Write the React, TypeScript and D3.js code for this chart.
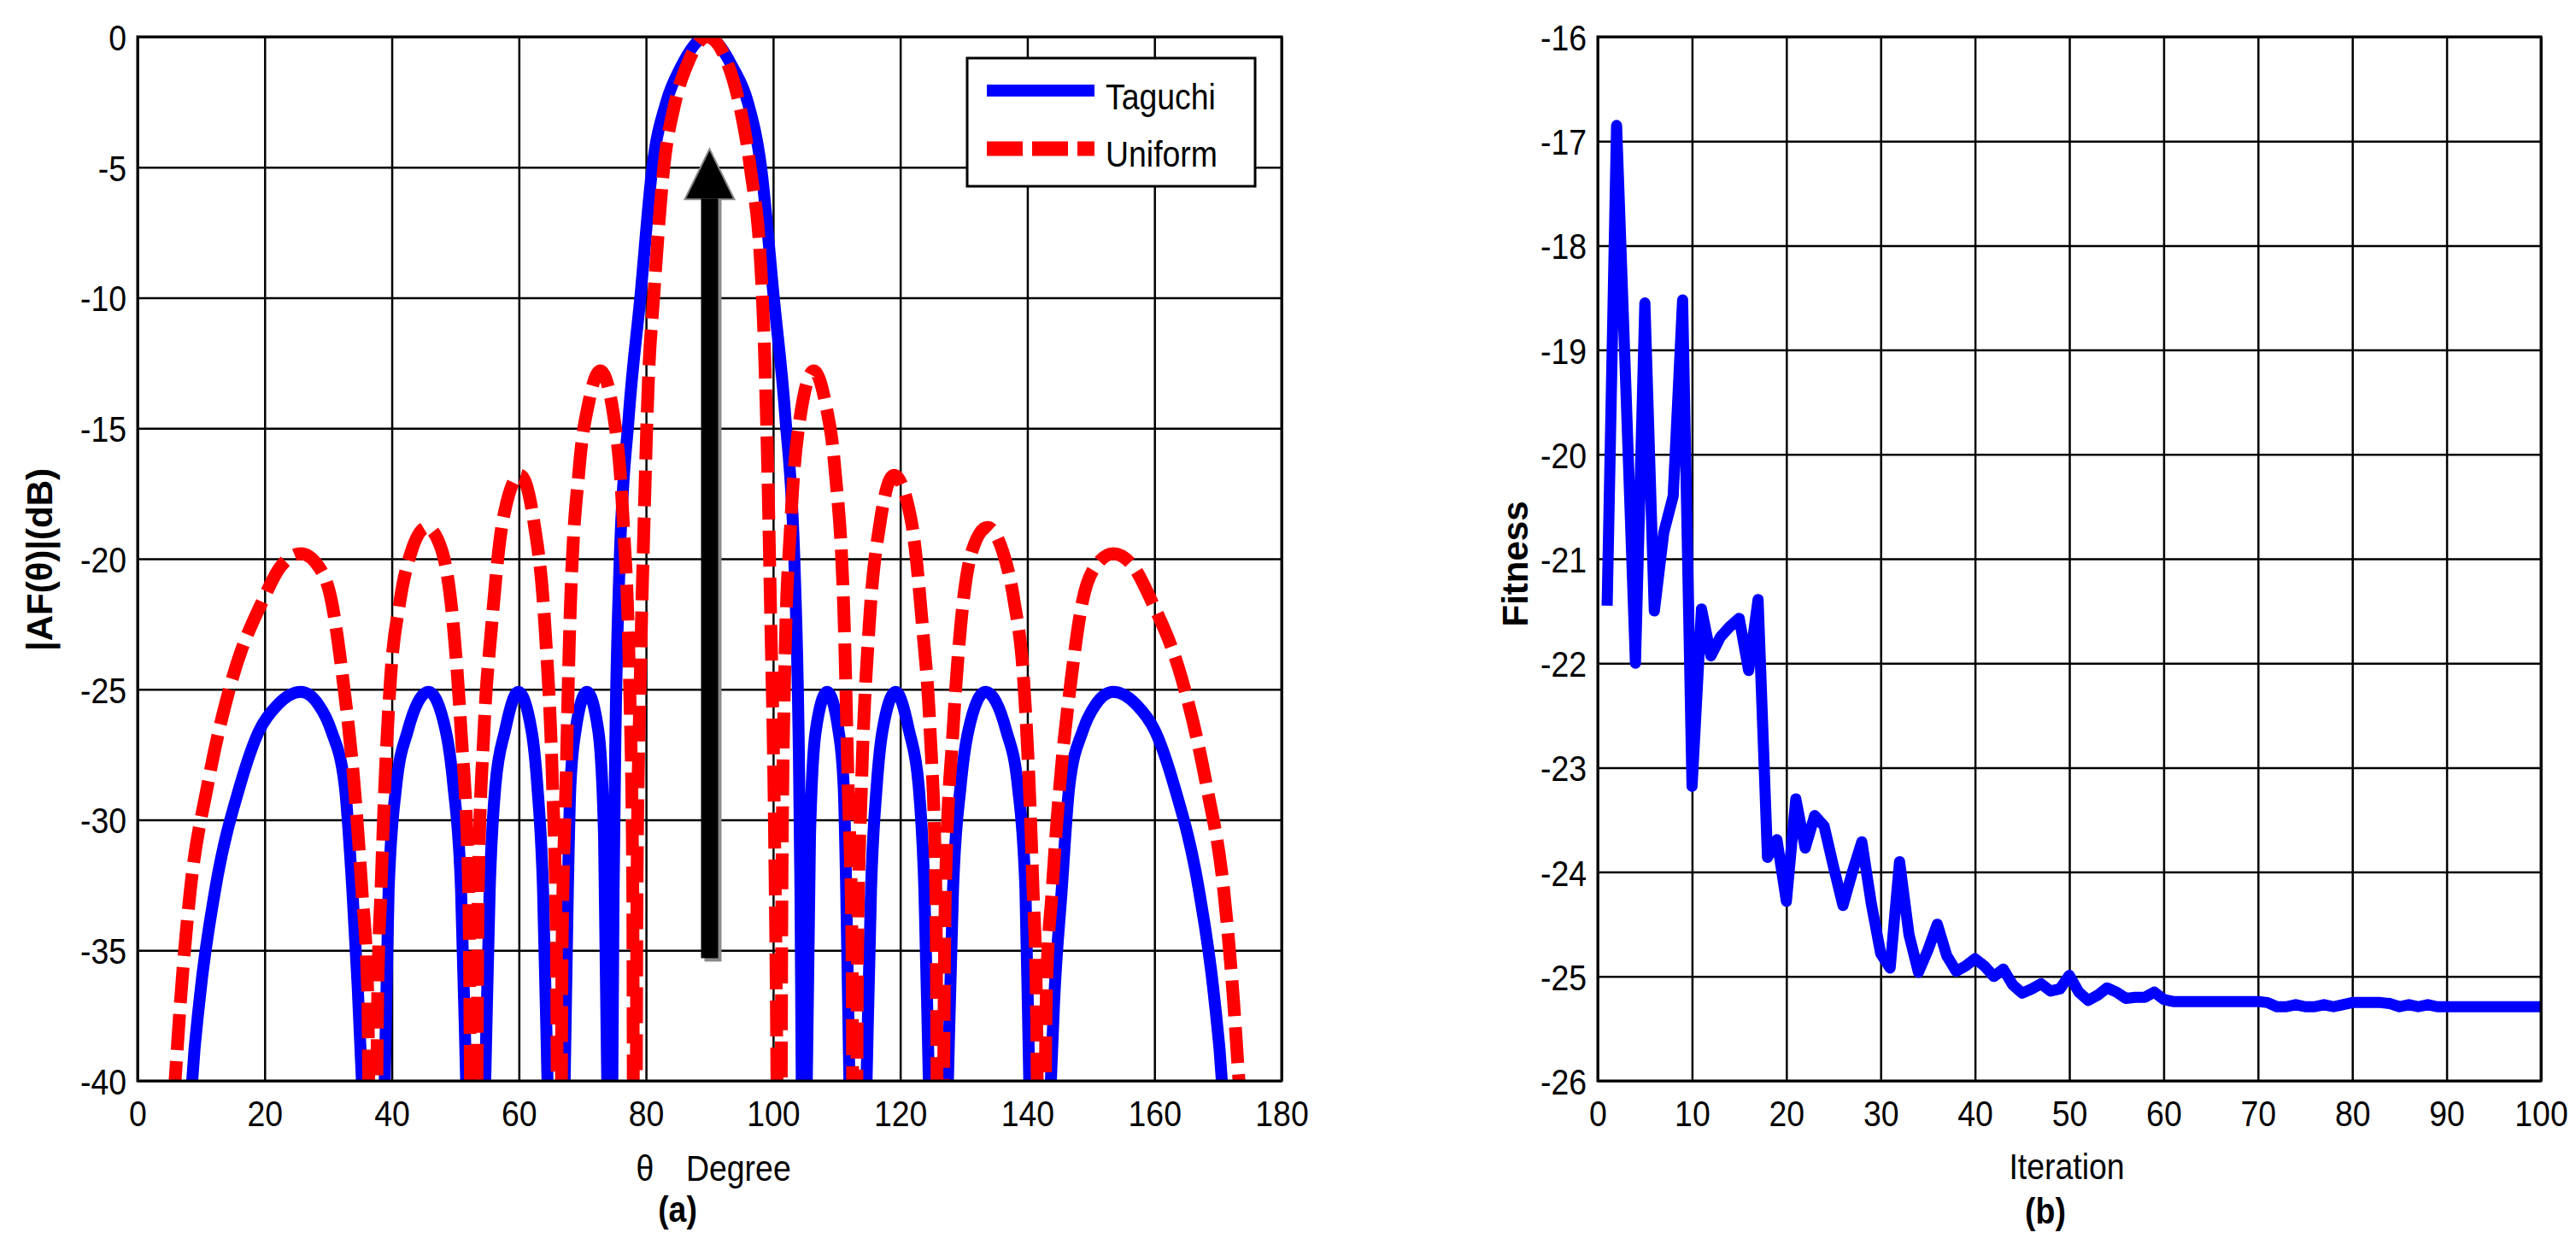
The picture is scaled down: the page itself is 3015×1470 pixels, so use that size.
import { useRef, useEffect } from 'react';
import * as d3 from 'd3';

// (a) array factor, [theta in degrees, |AF| in dB]
const taguchiPattern: [number, number][] = [
    [7.5, -46], [8.6, -40], [9.8, -36.8], [12.2, -32.7], [16.1, -28.7], [19.1, -26.6], [22, -25.6],
    [25.7, -25.1], [28.5, -25.6], [30.5, -26.6], [32.6, -28.7], [33.8, -32.7], [35.3, -40], [37.2, -55],
    [38.9, -40], [39.5, -32.7], [40.7, -28.7], [42.5, -26.6], [45.8, -25.1], [48.5, -26.6], [49.7, -28.7],
    [50.9, -32.7], [51.7, -40], [53.2, -55], [54.7, -40], [55.4, -32.7], [56.3, -28.7], [57.8, -26.6],
    [59.9, -25.1], [62, -26.6], [62.9, -28.7], [63.8, -32.7], [64.5, -40], [65.8, -55], [67.2, -40],
    [67.7, -32.7], [68.1, -28.7], [68.9, -26.6], [70.7, -25.1], [72.5, -26.6], [73.4, -30.6], [73.9, -40],
    [74.3, -55], [74.7, -40], [74.9, -32.7], [75.2, -26.6], [75.8, -20.5], [77.3, -14.5], [79.1, -10],
    [81, -5], [83.2, -2.5], [85.4, -1.2], [89.6, 0], [93.7, -1.2], [96, -2.5], [98.1, -5], [100.1, -10],
    [101.9, -14.5], [103.4, -20.5], [104, -26.6], [104.3, -32.7], [104.5, -40], [104.9, -55], [105.3, -40],
    [105.8, -30.6], [106.7, -26.6], [108.5, -25.1], [110.3, -26.6], [111.1, -28.7], [111.5, -32.7],
    [112, -40], [113.4, -55], [114.7, -40], [115.4, -32.7], [116.3, -28.7], [117.2, -26.6], [119.3, -25.1],
    [121.4, -26.6], [122.9, -28.7], [123.8, -32.7], [124.5, -40], [126, -55], [127.5, -40], [128.3, -32.7],
    [129.5, -28.7], [130.7, -26.6], [133.4, -25.1], [136.7, -26.6], [138.5, -28.7], [139.7, -32.7],
    [140.3, -40], [142, -55], [143.7, -40], [144.2, -37], [145.4, -32.7], [146.6, -28.7], [148.7, -26.6],
    [150.7, -25.6], [153.5, -25.1], [157.2, -25.6], [160.1, -26.6], [163.1, -28.7], [167, -32.7],
    [169.4, -36.8], [170.6, -40], [171.7, -46],
];

const uniformPattern: [number, number][] = [
    [4, -46], [5.9, -40], [6.8, -36.8], [8.3, -32.7], [11, -28.7], [14.9, -24.6], [19.7, -21.6],
    [22.5, -20.3], [25.7, -19.8], [28.5, -20.3], [30.5, -21.6], [32.3, -24.6], [34.1, -28.7], [35.3, -32.7],
    [36.2, -36.5], [37, -60], [37.8, -36.5], [38.3, -32.7], [38.9, -28.7], [39.8, -24.6], [41.3, -21.6],
    [43.1, -19.7], [45.5, -18.8], [47.9, -19.7], [49.7, -22.6], [50.9, -26.6], [52.1, -32.7], [53, -60],
    [53.6, -32.7], [54.5, -26.6], [55.7, -22.6], [57.5, -18.5], [60.2, -16.8], [62.3, -18.5], [64.1, -22.6],
    [65.3, -28.7], [65.9, -34.7], [66.4, -60], [66.8, -34.7], [67.4, -28.7], [68, -22.6], [69.5, -16.5],
    [71, -14], [72.8, -12.8], [74.9, -14.5], [76.4, -18.5], [77.4, -24.6], [77.9, -32], [78.2, -60],
    [78.6, -32], [79.1, -24.6], [79.7, -18.5], [80.4, -13], [81.2, -10], [82.8, -5], [84.5, -2.6],
    [86.6, -1], [89.6, 0], [92.8, -1], [94.7, -2.6], [96.4, -5], [98.2, -9.4], [99.1, -16], [99.6, -22],
    [100.2, -30], [100.6, -40], [101, -60], [101.4, -32], [101.8, -24.6], [102.8, -18.5], [104.3, -14.5],
    [106.4, -12.8], [108.2, -14], [109.7, -16.5], [111.2, -22.6], [111.8, -28.7], [112.4, -34.7], [112.8, -60],
    [113.3, -34.7], [113.9, -28.7], [115.1, -22.6], [116.9, -18.5], [119, -16.8], [121.7, -18.5],
    [123.5, -22.6], [124.7, -26.6], [125.6, -32.7], [126.2, -60], [127.1, -32.7], [128.3, -26.6],
    [129.5, -22.6], [131.3, -19.7], [133.7, -18.8], [136.1, -19.7], [137.9, -21.6], [139.4, -24.6],
    [140.3, -28.7], [140.9, -32.7], [141.4, -36.5], [142.2, -60], [143, -36.5], [143.9, -32.7],
    [145.1, -28.7], [146.9, -24.6], [148.7, -21.6], [150.7, -20.3], [153.5, -19.8], [156.7, -20.3],
    [159.5, -21.6], [164.3, -24.6], [168.2, -28.7], [170.9, -32.7], [172.4, -36.8], [173.3, -40], [175.2, -46],
];

const patternXTicks = [0, 20, 40, 60, 80, 100, 120, 140, 160, 180];
const patternYTicks = [0, -5, -10, -15, -20, -25, -30, -35, -40];
const legendLabels = ['Taguchi', 'Uniform'];

// arrow marking the main beam
const beamArrow = { theta: 90, from: -35.3, to: -4.3 };

// (b) convergence, fitness per iteration 1..100
const fitness = [
    -21.45, -16.85, -19.4, -22.0, -18.55, -21.5, -20.75, -20.4, -18.52, -23.18,
    -21.48, -21.93, -21.75, -21.65, -21.57, -22.07, -21.39, -23.86, -23.69, -24.28,
    -23.3, -23.77, -23.46, -23.56, -23.95, -24.32, -24.0, -23.71, -24.3, -24.78,
    -24.92, -23.9, -24.6, -24.96, -24.75, -24.5, -24.8, -24.95, -24.9, -24.83,
    -24.9, -25.0, -24.93, -25.08, -25.16, -25.12, -25.07, -25.14, -25.12, -24.99,
    -25.15, -25.23, -25.18, -25.11, -25.15, -25.21, -25.2, -25.2, -25.15, -25.22,
    -25.24, -25.24, -25.24, -25.24, -25.24, -25.24, -25.24, -25.24, -25.24, -25.24,
    -25.25, -25.29, -25.29, -25.27, -25.29, -25.29, -25.27, -25.29, -25.27, -25.25,
    -25.25, -25.25, -25.25, -25.26, -25.29, -25.27, -25.29, -25.27, -25.29, -25.29,
    -25.29, -25.29, -25.29, -25.29, -25.29, -25.29, -25.29, -25.29, -25.29, -25.29,
];
const fitnessXTicks = [0, 10, 20, 30, 40, 50, 60, 70, 80, 90, 100];
const fitnessYTicks = [-16, -17, -18, -19, -20, -21, -22, -23, -24, -25, -26];

const FONT = "'Liberation Sans', Arial, Helvetica, sans-serif";
const SQUEEZE = 0.87;

export default function App() {
    const svgRef = useRef<SVGSVGElement>(null);

    useEffect(() => {
        if (!svgRef.current) return;
        const width = 3015;
        const height = 1470;
        const svg = d3.select(svgRef.current)
            .attr('width', width)
            .attr('height', height)
            .attr('viewBox', `0 0 ${width} ${height}`);
        svg.selectAll('*').remove();

        svg.append('rect').attr('width', width).attr('height', height).attr('fill', '#fff');

        const label = (x: number, y: number, str: string, opts: { anchor?: string; size?: number; weight?: string; rotate?: boolean } = {}) => {
            return svg.append('text')
                .attr('transform', opts.rotate
                    ? `translate(${x},${y}) rotate(-90)`
                    : `translate(${x},${y}) scale(${SQUEEZE},1)`)
                .attr('text-anchor', opts.anchor ?? 'middle')
                .attr('font-family', FONT)
                .attr('font-size', opts.size ?? 43)
                .attr('font-weight', opts.weight ?? 'normal')
                .attr('fill', '#000')
                .text(str);
        };

        const top = 43;
        const bottom = 1265;

        function frame(x: d3.ScaleLinear<number, number>, y: d3.ScaleLinear<number, number>, xTicks: number[], yTicks: number[], clipId: string) {
            const [x0, x1] = x.range();
            const g = svg.append('g');

            // grid
            g.append('g')
                .attr('transform', `translate(0,${bottom})`)
                .call(d3.axisBottom(x).tickValues(xTicks).tickSize(-(bottom - top)).tickFormat(() => ''))
                .call(s => s.select('.domain').remove())
                .selectAll('line').attr('stroke', '#000').attr('stroke-width', 2.5);
            g.append('g')
                .attr('transform', `translate(${x0},0)`)
                .call(d3.axisLeft(y).tickValues(yTicks).tickSize(-(x1 - x0)).tickFormat(() => ''))
                .call(s => s.select('.domain').remove())
                .selectAll('line').attr('stroke', '#000').attr('stroke-width', 2.5);

            // tick labels
            const xa = g.append('g')
                .attr('transform', `translate(0,${bottom})`)
                .call(d3.axisBottom(x).tickValues(xTicks).tickSize(0).tickFormat(d => String(d)));
            xa.select('.domain').remove();
            xa.selectAll('text')
                .attr('y', 22)
                .attr('font-family', FONT)
                .attr('font-size', 43)
                .attr('fill', '#000')
                .attr('transform', `scale(${SQUEEZE},1)`);

            const ya = g.append('g')
                .attr('transform', `translate(${x0},0)`)
                .call(d3.axisLeft(y).tickValues(yTicks).tickSize(0).tickFormat(d => String(d)));
            ya.select('.domain').remove();
            ya.selectAll('text')
                .attr('x', -13 / SQUEEZE)
                .attr('dy', '0.36em')
                .attr('font-family', FONT)
                .attr('font-size', 43)
                .attr('fill', '#000')
                .attr('transform', `scale(${SQUEEZE},1)`);

            svg.append('defs').append('clipPath').attr('id', clipId)
                .append('rect').attr('x', x0).attr('y', top).attr('width', x1 - x0).attr('height', bottom - top);

            return { x0, x1 };
        }

        // ---------- (a) ----------
        const xA = d3.scaleLinear().domain([0, 180]).range([161, 1500]);
        const yA = d3.scaleLinear().domain([-40, 0]).range([bottom, top]);
        const fa = frame(xA, yA, patternXTicks, patternYTicks, 'clipA');

        const lineA = d3.line<[number, number]>()
            .x(d => xA(d[0]))
            .y(d => yA(d[1]))
            .curve(d3.curveMonotoneX);

        const curvesA = svg.append('g').attr('clip-path', 'url(#clipA)');
        curvesA.append('path')
            .datum(taguchiPattern)
            .attr('fill', 'none')
            .attr('stroke', '#0000ff')
            .attr('stroke-width', 14)
            .attr('stroke-linejoin', 'round')
            .attr('d', lineA);
        curvesA.append('path')
            .datum(uniformPattern)
            .attr('fill', 'none')
            .attr('stroke', '#ff0000')
            .attr('stroke-width', 15)
            .attr('stroke-dasharray', '42,13')
            .attr('d', lineA);

        // arrow
        const ax = xA(beamArrow.theta);
        const headBase = yA(beamArrow.to) + 59;
        const arrow = svg.append('g');
        arrow.append('rect')
            .attr('x', ax - 10 + 4).attr('y', headBase)
            .attr('width', 20).attr('height', yA(beamArrow.from) - headBase + 4)
            .attr('fill', '#8a8a8a');
        arrow.append('path')
            .attr('d', `M${ax},${yA(beamArrow.to)} L${ax + 29},${headBase} L${ax - 29},${headBase} Z`)
            .attr('fill', '#000')
            .attr('stroke', '#8a8a8a').attr('stroke-width', 2);
        arrow.append('rect')
            .attr('x', ax - 10).attr('y', headBase - 1)
            .attr('width', 20).attr('height', yA(beamArrow.from) - headBase + 1)
            .attr('fill', '#000');

        svg.append('rect')
            .attr('x', fa.x0).attr('y', top).attr('width', fa.x1 - fa.x0).attr('height', bottom - top)
            .attr('fill', 'none').attr('stroke', '#000').attr('stroke-width', 3);

        // legend
        const lg = svg.append('g');
        lg.append('rect')
            .attr('x', 1132).attr('y', 68).attr('width', 337).attr('height', 150)
            .attr('fill', '#fff').attr('stroke', '#000').attr('stroke-width', 3);
        lg.append('line')
            .attr('x1', 1155).attr('x2', 1281).attr('y1', 106).attr('y2', 106)
            .attr('stroke', '#0000ff').attr('stroke-width', 14);
        lg.append('line')
            .attr('x1', 1155).attr('x2', 1281).attr('y1', 174).attr('y2', 174)
            .attr('stroke', '#ff0000').attr('stroke-width', 17).attr('stroke-dasharray', '42,11');
        label(1294, 128, legendLabels[0], { anchor: 'start' });
        label(1294, 195, legendLabels[1], { anchor: 'start' });

        // axis titles
        label(755, 1382, 'θ');
        label(803, 1382, 'Degree', { anchor: 'start' });
        label(793, 1430, '(a)', { weight: 'bold' });
        label(61, 655, '|AF(θ)|(dB)', { weight: 'bold', size: 42, rotate: true });

        // ---------- (b) ----------
        const xB = d3.scaleLinear().domain([0, 100]).range([1870, 2974]);
        const yB = d3.scaleLinear().domain([-26, -16]).range([bottom, top]);
        const fb = frame(xB, yB, fitnessXTicks, fitnessYTicks, 'clipB');

        const lineB = d3.line<number>()
            .x((_, i) => xB(i + 1))
            .y(d => yB(d));

        svg.append('g').attr('clip-path', 'url(#clipB)')
            .append('path')
            .datum(fitness)
            .attr('fill', 'none')
            .attr('stroke', '#0000ff')
            .attr('stroke-width', 13)
            .attr('stroke-linejoin', 'round')
            .attr('d', lineB);

        svg.append('rect')
            .attr('x', fb.x0).attr('y', top).attr('width', fb.x1 - fb.x0).attr('height', bottom - top)
            .attr('fill', 'none').attr('stroke', '#000').attr('stroke-width', 3);

        label(2419, 1380, 'Iteration');
        label(2394, 1432, '(b)', { weight: 'bold' });
        label(1788, 660, 'Fitness', { weight: 'bold', size: 42, rotate: true });
    }, []);

    return (
        <div style={{ position: 'absolute', left: 0, top: 0 }}>
            <svg ref={svgRef} style={{ display: 'block' }} />
        </div>
    );
}
